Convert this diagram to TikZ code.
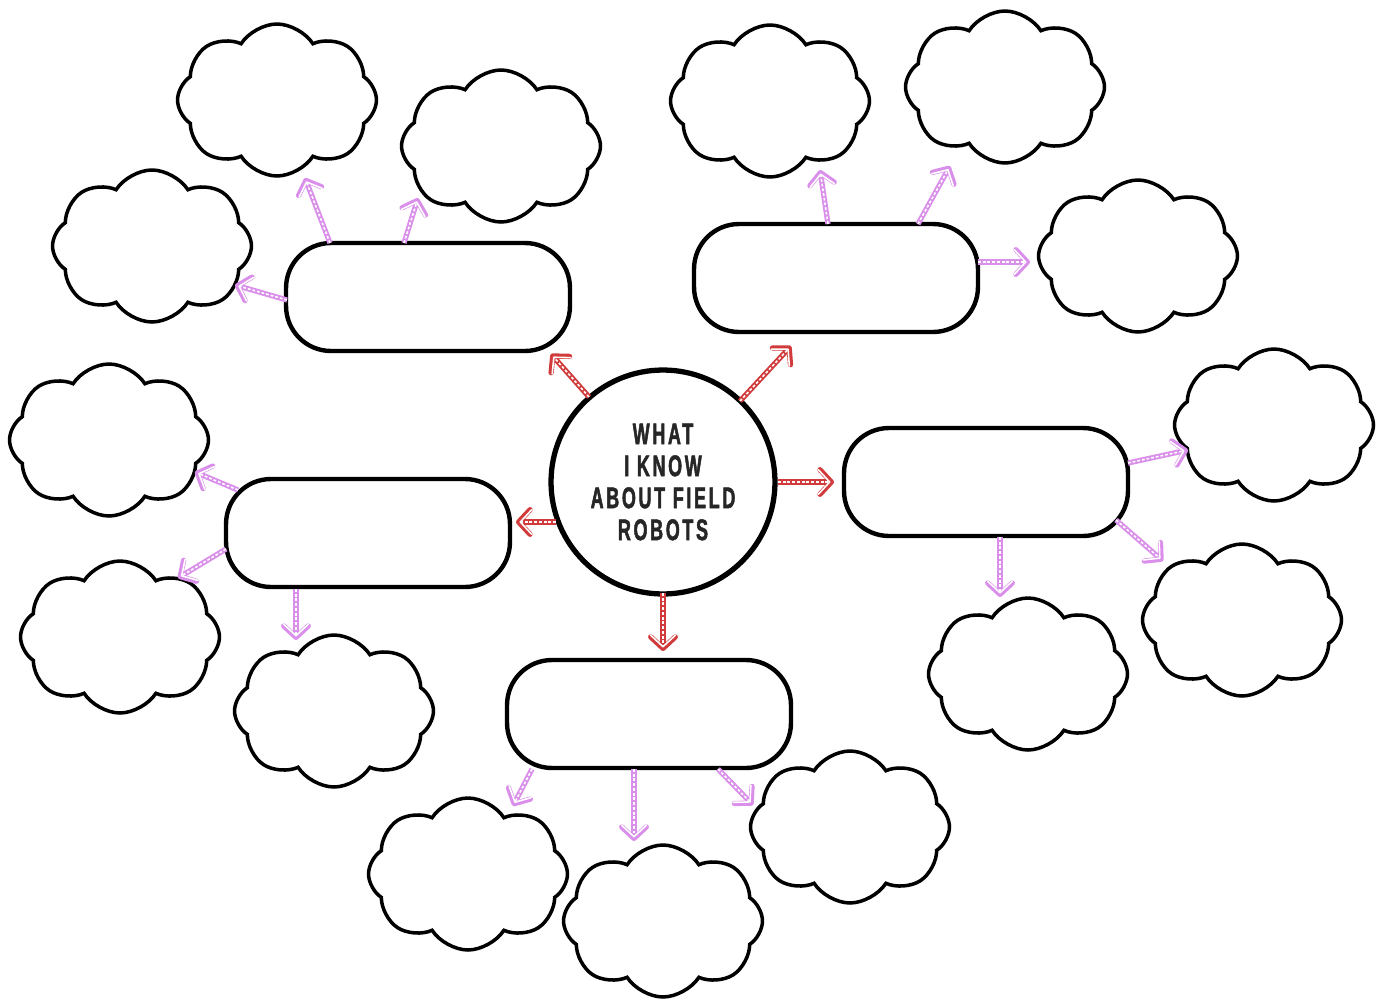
\documentclass[tikz,border=0pt]{standalone}
\usepackage{fontspec}
\newfontfamily\titlefont{Liberation Sans}[UprightFont=* Bold, FakeStretch=0.6, FakeBold=1.6, LetterSpace=9]
\usetikzlibrary{shapes.symbols, arrows.meta, calc}

\definecolor{hubred}{HTML}{D23B3B}
\definecolor{leafpink}{HTML}{DA8FEA}
\definecolor{inkgray}{HTML}{262626}

\tikzset{
  box/.style={draw, line width=2.5pt, rounded corners=0.9cm, minimum width=5.68cm, minimum height=2.16cm},
  bubble/.style={draw, cloud, cloud puffs=8, cloud puff arc=115, aspect=1.3, line width=2pt, minimum width=3.98cm, minimum height=3.04cm},
  hub/.style={draw, circle, line width=3pt, minimum size=4.48cm, align=center},
  link/.style={line width=3pt, draw=#1, -{Straight Barb[round, length=6.5pt, width=14pt]},
    postaction={draw=white, line width=0.9pt, dash pattern=on 1.6pt off 1.1pt, shorten >=2pt}},
}

\begin{document}
\begin{tikzpicture}[x=0.02cm, y=-0.02cm]
\useasboundingbox (0,0) rectangle (1383,1001);

% Centre
\node (hub) [hub, font=\titlefont\fontsize{17}{18.2}\selectfont, text=inkgray] at (663,482) {WHAT\\I KNOW\\ABOUT FIELD\\ROBOTS};

% Boxes
\node (tl) [box] at (428,297) {};
\node (tr) [box] at (836,278) {};
\node (rt) [box] at (986,482) {};
\node (lf) [box] at (368,533) {};
\node (bt) [box] at (649,714) {};

% Clouds
\node (c1) [bubble] at (277,100) {};
\node (c2) [bubble] at (501,146) {};
\node (c3) [bubble] at (152,246) {};
\node (c4) [bubble] at (770,101) {};
\node (c5) [bubble] at (1005,87) {};
\node (c6) [bubble] at (1138,256) {};
\node (c7) [bubble] at (1274,425) {};
\node (c8) [bubble] at (1242,620) {};
\node (c9) [bubble] at (1028,674) {};
\node (c10) [bubble] at (109,440) {};
\node (c11) [bubble] at (120,637) {};
\node (c12) [bubble] at (334,711) {};
\node (c13) [bubble] at (468,874) {};
\node (c14) [bubble] at (663,921) {};
\node (c15) [bubble] at (850,827) {};

% Red arrows
\draw[link=hubred] ($(hub)+(-74,-85)$) -- ($(tl)+(123,57)$);
\draw[link=hubred] ($(hub)+(77,-81)$) -- ($(tr)+(-45,68)$);
\draw[link=hubred] ($(hub)+(115,0)$) -- ($(rt)+(-152,0)$);
\draw[link=hubred] ($(hub)+(-107,40)$) -- ($(lf)+(148,-11)$);
\draw[link=hubred] ($(hub)+(0,111)$) -- ($(bt)+(14,-63)$);

% Pink arrows
\draw[link=leafpink] ($(tl)+(-98,-54)$) -- ($(c1)+(28,78)$);
\draw[link=leafpink] ($(tl)+(-24,-54)$) -- ($(c2)+(-83,52)$);
\draw[link=leafpink] ($(tl)+(-141,3)$) -- ($(c3)+(83,39)$);
\draw[link=leafpink] ($(tr)+(-8,-54)$) -- ($(c4)+(50,69)$);
\draw[link=leafpink] ($(tr)+(82,-54)$) -- ($(c5)+(-55,79)$);
\draw[link=leafpink] ($(tr)+(142,-16)$) -- ($(c6)+(-108,6)$);
\draw[link=leafpink] ($(rt)+(142,-19)$) -- ($(c7)+(-86,25)$);
\draw[link=leafpink] ($(rt)+(130,38)$) -- ($(c8)+(-79,-59)$);
\draw[link=leafpink] ($(rt)+(14,55)$) -- ($(c9)+(-28,-77)$);
\draw[link=leafpink] ($(lf)+(-130,-43)$) -- ($(c10)+(86,32)$);
\draw[link=leafpink] ($(lf)+(-142,16)$) -- ($(c11)+(58,-59)$);
\draw[link=leafpink] ($(lf)+(-72,56)$) -- ($(c12)+(-38,-71)$);
\draw[link=leafpink] ($(bt)+(-117,55)$) -- ($(c13)+(45,-68)$);
\draw[link=leafpink] ($(bt)+(-15,55)$) -- ($(c14)+(-29,-80)$);
\draw[link=leafpink] ($(bt)+(69,55)$) -- ($(c15)+(-97,-22)$);

\end{tikzpicture}
\end{document}
